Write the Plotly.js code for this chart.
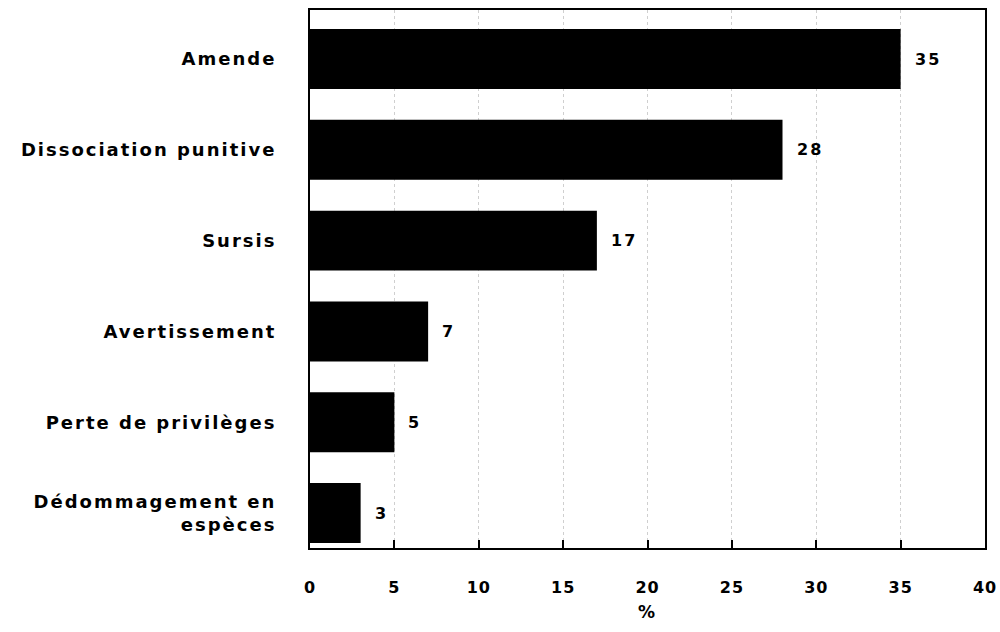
<!DOCTYPE html>
<html>
<head>
<meta charset="utf-8">
<script src="https://cdn.plot.ly/plotly-3.0.1.min.js"></script>
<style>
  body { margin: 0; background: #fff; }
  #chart { width: 1000px; height: 632px; }
  .ytick text, .annotation-text, .g-xtitle text { letter-spacing: 2px; }
  .xtick text { letter-spacing: 1px; }
</style>
</head>
<body>
<div id="chart"></div>
<script>
const categories = ["Amende", "Dissociation punitive", "Sursis", "Avertissement", "Perte de privilèges", "Dédommagement en<br>espèces"];
const values = [35, 28, 17, 7, 5, 3];
const xTickVals = [0, 5, 10, 15, 20, 25, 30, 35, 40];
const xTitle = "%";

const font = { family: "DejaVu Sans, Arial, sans-serif", size: 18, color: "#000", weight: "bold" };

const trace = {
  type: "bar",
  orientation: "h",
  x: values,
  y: categories,
  marker: { color: "#000", line: { width: 0 } },
  hoverinfo: "none"
};

const annotations = values.map((v, i) => ({
  x: v, y: categories[i], xref: "x", yref: "y",
  text: String(v), showarrow: false, xanchor: "left", xshift: 12,
  font: { family: font.family, size: 16, color: "#000", weight: "bold" }
}));

const layout = {
  width: 1000, height: 632,
  margin: { l: 310, r: 15, t: 10, b: 84 },
  paper_bgcolor: "#fff", plot_bgcolor: "#fff",
  bargap: 0.34,
  showlegend: false,
  font: font,
  xaxis: {
    range: [0, 40],
    tickvals: xTickVals,
    ticktext: xTickVals.map(String),
    ticklabeloverflow: "allow",
    ticks: "inside", ticklen: 8, tickwidth: 2, tickcolor: "#000",
    showline: true, linecolor: "#000", linewidth: 2, mirror: true,
    showgrid: true, gridcolor: "#cfcfcf", gridwidth: 1, griddash: "dot",
    zeroline: false,
    ticklabelstandoff: 24,
    tickfont: { family: font.family, size: 16, color: "#000", weight: "bold" },
    title: { text: xTitle, standoff: 10, font: { family: font.family, size: 17, color: "#000", weight: "bold" } },
    fixedrange: true
  },
  yaxis: {
    type: "category",
    range: [5.385, -0.54],
    ticks: "",
    showline: true, linecolor: "#000", linewidth: 2, mirror: true,
    showgrid: false, zeroline: false,
    ticklabelstandoff: 28,
    tickfont: { family: font.family, size: 18, color: "#000", weight: "bold" },
    fixedrange: true
  },
  annotations: annotations
};

Plotly.newPlot("chart", [trace], layout, { displayModeBar: false, staticPlot: true });
</script>
</body>
</html>
